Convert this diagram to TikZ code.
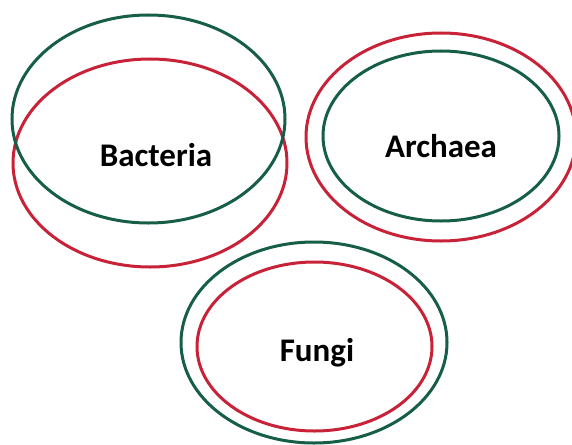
\documentclass[tikz,border=0pt]{standalone}
\usepackage{fontspec}
\setmainfont{Carlito}
\definecolor{ringgreen}{RGB}{22,94,72}
\definecolor{ringred}{RGB}{200,34,56}
\begin{document}
\begin{tikzpicture}[x=1pt,y=-1pt,
  ring/.style={line width=3pt},
  gring/.style={ring,draw=ringgreen},
  rring/.style={ring,draw=ringred},
  lbl/.style={font=\bfseries\fontsize{33}{36}\selectfont,anchor=base,inner sep=0pt}]
\useasboundingbox (0,0) rectangle (572,444);
% Bacteria
\draw[rring] (150,163) ellipse [x radius=137,y radius=104];
\draw[gring] (148.5,119) ellipse [x radius=136.5,y radius=104];
\node[lbl] (bacteria) at (156,166) {Bacteria};
% Archaea
\draw[rring] (441,137) ellipse [x radius=135,y radius=104];
\draw[gring] (441,136) ellipse [x radius=118,y radius=85];
\node[lbl] (archaea) at (441,157) {Archaea};
% Fungi
\draw[gring] (314,342.5) ellipse [x radius=133,y radius=100.5];
\draw[rring] (314.5,346.5) ellipse [x radius=117.5,y radius=84.5];
\node[lbl] (fungi) at (317,361) {Fungi};
\end{tikzpicture}
\end{document}
